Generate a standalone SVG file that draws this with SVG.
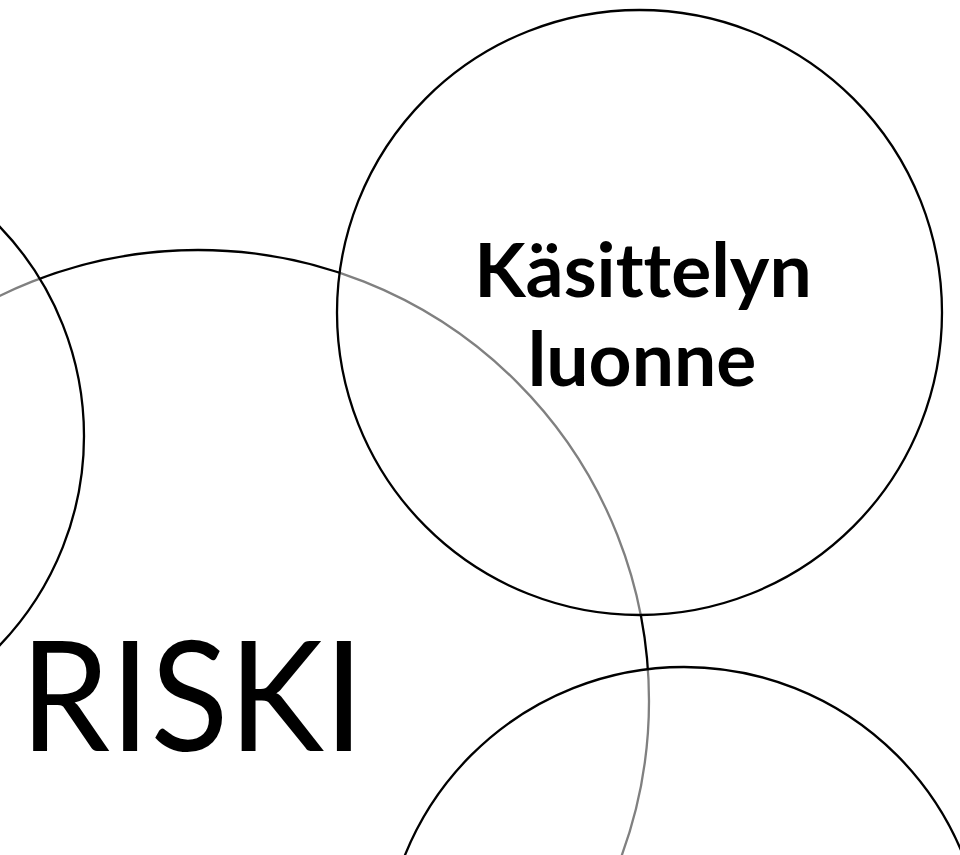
<svg xmlns="http://www.w3.org/2000/svg" width="960" height="855" viewBox="0 0 960 855">
  <style>
    .ring { stroke: #000; stroke-width: 2.3; }
    .big { fill: #fff; }
    .veil { fill: #fff; fill-opacity: 0.5; }
    .title { font-family: Lato, "Open Sans", "Liberation Sans", sans-serif; fill: #000; font-variant-ligatures: none; font-feature-settings: "liga" 0, "dlig" 0; }
  </style>
  <rect x="0" y="0" width="960" height="855" fill="#fff"/>
  <g id="risk">
    <circle class="ring big" cx="198" cy="701" r="451"/>
    <text class="title" x="20" y="751" font-size="154" textLength="344" lengthAdjust="spacingAndGlyphs">RISKI</text>
  </g>
  <g id="left-circle">
    <circle class="ring veil" cx="-218" cy="436" r="302"/>
  </g>
  <g id="bottom-circle">
    <circle class="ring veil" cx="684" cy="968" r="301"/>
  </g>
  <g id="kasittelyn-luonne">
    <circle class="ring veil" cx="639.5" cy="312.5" r="302.5"/>
    <text class="title" x="643" y="297" font-size="75" font-weight="bold" text-anchor="middle">Käsittelyn</text>
    <text class="title" x="642" y="386" font-size="75" font-weight="bold" text-anchor="middle">luonne</text>
  </g>
</svg>
